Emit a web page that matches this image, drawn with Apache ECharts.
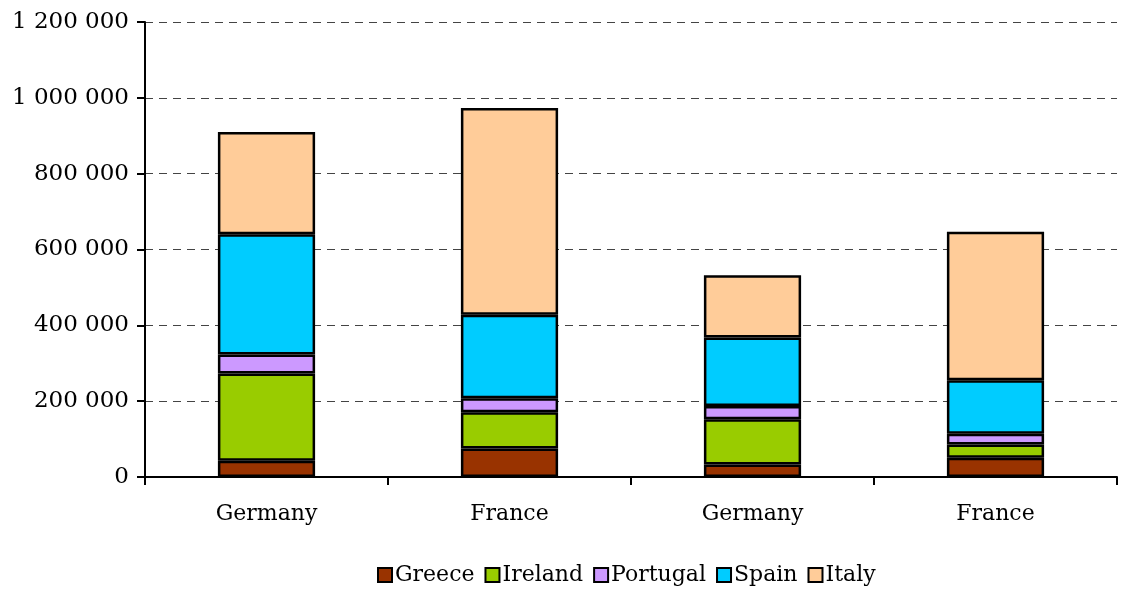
<!DOCTYPE html>
<html><head><meta charset="utf-8">
<script src="https://cdn.jsdelivr.net/npm/echarts@6/dist/echarts.min.js"></script>
<style>html,body{margin:0;padding:0;background:#fff}#c{width:1122px;height:595px}</style>
</head><body><div id="c"></div>
<script>
var categories = ['Germany', 'France', 'Germany', 'France'];
var greece   = [43000, 75000, 33000, 51000];
var ireland  = [230000, 96000, 119000, 35000];
var portugal = [50000, 37000, 35000, 28000];
var spain    = [317000, 220000, 181000, 141000];
var italy    = [270000, 545000, 164000, 392000];
var yTicks = [0, 200000, 400000, 600000, 800000, 1000000, 1200000];

var FONT = 'DejaVu Serif';
function fmt(v){ return String(v).replace(/\B(?=(\d{3})+(?!\d))/g, ' '); }
function mk(name, data, color){
  return {name: name, type: 'bar', stack: 'a', data: data, barWidth: '40%',
    itemStyle: {color: color, borderColor: '#000', borderWidth: 2.5}};
}
var chart = echarts.init(document.getElementById('c'), null, {renderer: 'canvas'});
chart.setOption({
  animation: false,
  grid: {left: 145, right: 5, top: 22, bottom: 118},
  legend: {bottom: 4, left: 372, itemWidth: 14, itemHeight: 14, itemGap: 10,
    icon: 'rect',
    textStyle: {fontFamily: FONT, fontSize: 22, color: '#000', padding: [0,0,0,-2]},
    data: ['Greece','Ireland','Portugal','Spain','Italy']},
  xAxis: {type: 'category', data: categories,
    axisLine: {lineStyle: {color: '#000', width: 2}},
    axisTick: {show: true, length: 8, lineStyle: {color: '#000', width: 2}},
    axisLabel: {fontFamily: FONT, fontSize: 22, color: '#000', margin: 26}},
  yAxis: {type: 'value', min: yTicks[0], max: yTicks[yTicks.length-1], interval: 200000,
    axisLine: {show: true, lineStyle: {color: '#000', width: 2}},
    axisTick: {show: true, length: 8, lineStyle: {color: '#000', width: 2}},
    axisLabel: {fontFamily: FONT, fontSize: 23, color: '#000', margin: 16, formatter: fmt},
    splitLine: {show: true, lineStyle: {color: '#444', width: 1.2, type: [8, 6]}}},
  series: [
    mk('Greece', greece, '#993300'),
    mk('Ireland', ireland, '#99CC00'),
    mk('Portugal', portugal, '#CC99FF'),
    mk('Spain', spain, '#00CCFF'),
    mk('Italy', italy, '#FFCC99')
  ]
});
</script></body></html>
